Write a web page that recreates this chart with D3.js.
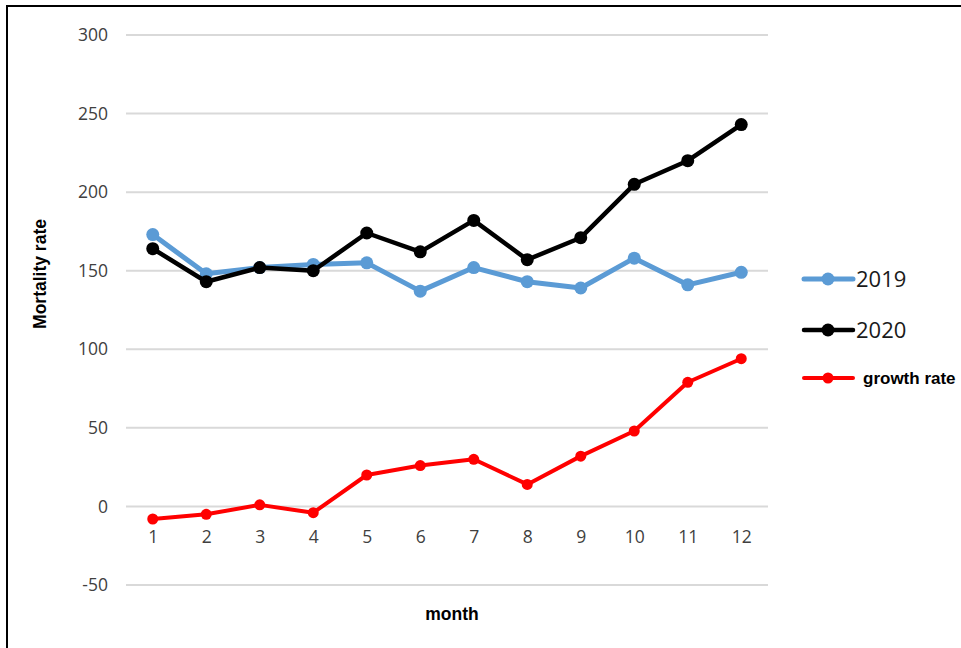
<!DOCTYPE html>
<html>
<head>
<meta charset="utf-8">
<script src="https://cdn.jsdelivr.net/npm/d3@7"></script>
<style>
  body { margin: 0; background: #fff; }
  svg { display: block; }
</style>
</head>
<body>
<svg width="961" height="648"></svg>
<script>
const months = [1, 2, 3, 4, 5, 6, 7, 8, 9, 10, 11, 12];
const rate2019 = [173, 148, 152, 154, 155, 137, 152, 143, 139, 158, 141, 149];
const rate2020 = [164, 143, 152, 150, 174, 162, 182, 157, 171, 205, 220, 243];
const growthRate = [-8, -5, 1, -4, 20, 26, 30, 14, 32, 48, 79, 94];
const yTicks = [-50, 0, 50, 100, 150, 200, 250, 300];

const series = [
  {name: "2019", values: rate2019, color: "#5b9bd5", width: 5, r: 6.5},
  {name: "2020", values: rate2020, color: "#000000", width: 4.5, r: 6.5},
  {name: "growth rate", values: growthRate, color: "#ff0000", width: 4, r: 5.5}
];

const tickFont = "'Open Sans', 'Noto Sans', sans-serif";
const svg = d3.select("svg");

// frame (only top and left edges fall inside the picture)
svg.append("rect")
  .attr("x", 7).attr("y", 6)
  .attr("width", 980).attr("height", 680)
  .attr("fill", "none")
  .attr("stroke", "#000")
  .attr("stroke-width", 2);

const x = d3.scalePoint().domain(months).range([126, 768]).padding(0.5);
const y = d3.scaleLinear().domain([-50, 300]).range([585, 35]);

// gridlines
svg.append("g")
  .selectAll("line")
  .data(yTicks)
  .join("line")
  .attr("x1", 126).attr("x2", 768)
  .attr("y1", d => y(d)).attr("y2", d => y(d))
  .attr("stroke", "#d9d9d9")
  .attr("stroke-width", 2);

// y tick labels
const yAxis = svg.append("g")
  .attr("transform", "translate(108,0)")
  .call(d3.axisLeft(y).tickValues(yTicks).tickFormat(d => String(d)).tickSize(0).tickPadding(0));
yAxis.select(".domain").remove();
yAxis.selectAll("text")
  .attr("fill", "#404040")
  .style("font-family", tickFont)
  .style("font-size", "17.5px");

// x tick labels
const xAxis = svg.append("g")
  .attr("transform", `translate(0,${y(0)})`)
  .call(d3.axisBottom(x).tickSize(0).tickPadding(37));
xAxis.select(".domain").remove();
xAxis.selectAll("text")
  .attr("fill", "#404040")
  .attr("dy", "0")
  .style("font-family", tickFont)
  .style("font-size", "17.5px");

// axis titles
svg.append("text")
  .attr("transform", "translate(46,274) rotate(-90)")
  .attr("text-anchor", "middle")
  .style("font-family", "'Liberation Sans', Arial, sans-serif")
  .style("font-size", "17.5px")
  .style("font-weight", "bold")
  .text("Mortality rate");

svg.append("text")
  .attr("x", 452).attr("y", 620)
  .attr("text-anchor", "middle")
  .style("font-family", "'Liberation Sans', Arial, sans-serif")
  .style("font-size", "17.5px")
  .style("font-weight", "bold")
  .text("month");

// lines + markers
const line = d3.line()
  .x((d, i) => x(months[i]))
  .y(d => y(d));

series.forEach(s => {
  svg.append("path")
    .datum(s.values)
    .attr("fill", "none")
    .attr("stroke", s.color)
    .attr("stroke-width", s.width)
    .attr("stroke-linejoin", "round")
    .attr("d", line);

  svg.append("g")
    .selectAll("circle")
    .data(s.values)
    .join("circle")
    .attr("cx", (d, i) => x(months[i]))
    .attr("cy", d => y(d))
    .attr("r", s.r)
    .attr("fill", s.color);
});

// legend
const legendY = [279, 330, 378];
series.forEach((s, i) => {
  const lg = svg.append("g").attr("transform", `translate(0,${legendY[i]})`);
  lg.append("line")
    .attr("x1", 804).attr("x2", 853)
    .attr("stroke", s.color)
    .attr("stroke-width", s.width)
    .attr("stroke-linecap", "round");
  lg.append("circle")
    .attr("cx", 828)
    .attr("r", s.r)
    .attr("fill", s.color);
  const t = lg.append("text")
    .attr("dy", "0.35em")
    .text(s.name);
  if (i < 2) {
    t.attr("x", 856)
      .attr("fill", "#1a1a1a")
      .style("font-family", "'Open Sans', sans-serif")
      .style("font-size", "22px");
  } else {
    t.attr("x", 863)
      .style("font-family", "'Liberation Sans', Arial, sans-serif")
      .style("font-size", "17px")
      .style("font-weight", "bold");
  }
});
</script>
</body>
</html>
